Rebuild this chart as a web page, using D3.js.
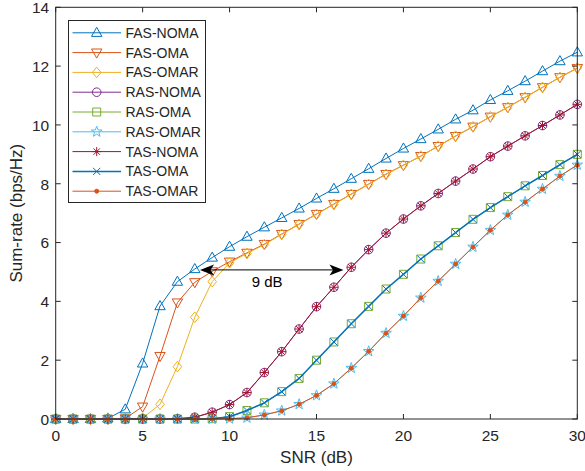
<!DOCTYPE html>
<html>
<head>
<meta charset="utf-8">
<script src="https://cdn.jsdelivr.net/npm/d3@7/dist/d3.min.js"></script>
<style>
    body { margin: 0; background: #fff; }
    text { font-family: "Liberation Sans", Arial, sans-serif; fill: #262626; }
</style>
</head>
<body>
<div id="chart"></div>
<script>
// SNR points (dB)
var snr = [0, 1, 2, 3, 4, 5, 6, 7, 8, 9, 10, 11, 12, 13, 14, 15, 16, 17, 18, 19, 20,
    21, 22, 23, 24, 25, 26, 27, 28, 29, 30];

// sum-rate values (bps/Hz)
var fasNoma = [0, 0, 0, 0.02, 0.33, 1.89, 3.84, 4.67, 5.1, 5.49, 5.86, 6.2, 6.52, 6.84, 7.16, 7.5,
    7.83, 8.17, 8.51, 8.86, 9.2, 9.52, 9.85, 10.19, 10.5, 10.85, 11.16, 11.49, 11.83, 12.17, 12.47];
var fasOma = [0, 0, 0, 0, 0.02, 0.42, 2.14, 3.96, 4.65, 5.02, 5.35, 5.65, 5.95, 6.29, 6.63, 6.97,
    7.31, 7.65, 7.99, 8.33, 8.63, 8.94, 9.28, 9.62, 9.94, 10.28, 10.6, 10.94, 11.28, 11.62, 11.93];
var fasOmar = [0, 0, 0, 0, 0, 0.03, 0.5, 1.78, 3.46, 4.67, 5.31, 5.63, 5.93, 6.28, 6.62, 6.96,
    7.3, 7.64, 7.98, 8.32, 8.63, 8.94, 9.28, 9.62, 9.94, 10.28, 10.6, 10.94, 11.28, 11.62, 11.94];
var rasNoma = [0, 0, 0, 0, 0, 0, 0, 0.01, 0.06, 0.23, 0.49, 0.9, 1.58, 2.29, 3.06, 3.82,
    4.48, 5.16, 5.76, 6.32, 6.8, 7.25, 7.67, 8.09, 8.5, 8.92, 9.28, 9.63, 9.98, 10.34, 10.7];
var rasOma = [0, 0, 0, 0, 0, 0, 0, 0, 0, 0.01, 0.08, 0.29, 0.55, 0.93, 1.38, 2.0,
    2.62, 3.24, 3.83, 4.42, 4.92, 5.44, 5.89, 6.34, 6.79, 7.19, 7.56, 7.93, 8.28, 8.65, 9.0];
var rasOmar = [0, 0, 0, 0, 0, 0, 0, 0, 0, 0, 0.01, 0.04, 0.14, 0.28, 0.5, 0.8,
    1.2, 1.73, 2.3, 2.92, 3.5, 4.12, 4.69, 5.27, 5.85, 6.42, 6.94, 7.38, 7.82, 8.26, 8.64];
var tasNoma = [0, 0, 0, 0, 0, 0, 0, 0.01, 0.06, 0.23, 0.49, 0.9, 1.58, 2.29, 3.06, 3.82,
    4.48, 5.16, 5.76, 6.32, 6.8, 7.25, 7.67, 8.09, 8.5, 8.92, 9.28, 9.63, 9.98, 10.34, 10.7];
var tasOma = [0, 0, 0, 0, 0, 0, 0, 0, 0, 0.01, 0.08, 0.29, 0.55, 0.93, 1.38, 2.0,
    2.62, 3.24, 3.83, 4.42, 4.92, 5.44, 5.89, 6.34, 6.79, 7.19, 7.56, 7.93, 8.28, 8.65, 9.0];
var tasOmar = [0, 0, 0, 0, 0, 0, 0, 0, 0, 0, 0.01, 0.04, 0.14, 0.28, 0.5, 0.8,
    1.2, 1.73, 2.3, 2.92, 3.5, 4.12, 4.69, 5.27, 5.85, 6.42, 6.94, 7.38, 7.82, 8.26, 8.64];

var seriesNames = ["FAS-NOMA", "FAS-OMA", "FAS-OMAR", "RAS-NOMA", "RAS-OMA", "RAS-OMAR",
    "TAS-NOMA", "TAS-OMA", "TAS-OMAR"];
var seriesValues = [fasNoma, fasOma, fasOmar, rasNoma, rasOma, rasOmar, tasNoma, tasOma, tasOmar];

var xTicks = [0, 5, 10, 15, 20, 25, 30];
var yTicks = [0, 2, 4, 6, 8, 10, 12, 14];

// the "9 dB" gap annotation (data coords)
var gapArrow = { from: 8.3, to: 16.55, level: 5.07, label: "9 dB" };

// styles (matlab default colour order)
var colors = ["#0072BD", "#D95319", "#EDB120", "#7E2F8E", "#77AC30", "#4DBEEE",
    "#A2142F", "#0072BD", "#D95319"];
var markers = ["tri-up", "tri-down", "diamond", "circle", "square", "star", "asterisk", "cross", "dot"];
var widths = [1, 1, 1, 1, 1, 1, 1, 1.5, 1];

var svgWidth = 585, svgHeight = 471;
var margin = { top: 7.3, right: 7.7, bottom: 52, left: 55.7 };
var width = svgWidth - margin.left - margin.right;
var height = svgHeight - margin.top - margin.bottom;

var svg = d3.select("#chart").append("svg")
    .attr("width", svgWidth)
    .attr("height", svgHeight);

var chartGroup = svg.append("g")
    .attr("transform", `translate(${margin.left}, ${margin.top})`);

var x = d3.scaleLinear().domain([0, 30]).range([0, width]);
var y = d3.scaleLinear().domain([0, 14]).range([height, 0]);

// marker shapes as paths centred on 0,0
function markerPath(type) {
    var p = d3.path();
    if (type == "tri-up") {
        p.moveTo(0, -5.5); p.lineTo(5.2, 3.6); p.lineTo(-5.2, 3.6); p.closePath();
    } else if (type == "tri-down") {
        p.moveTo(0, 5.5); p.lineTo(5.2, -3.6); p.lineTo(-5.2, -3.6); p.closePath();
    } else if (type == "diamond") {
        p.moveTo(0, -5.3); p.lineTo(4.3, 0); p.lineTo(0, 5.3); p.lineTo(-4.3, 0); p.closePath();
    } else if (type == "circle") {
        p.moveTo(4.3, 0); p.arc(0, 0, 4.3, 0, 2 * Math.PI);
    } else if (type == "square") {
        p.rect(-4, -4, 8, 8);
    } else if (type == "star") {
        for (var i = 0; i < 10; i++) {
            var r = i % 2 == 0 ? 5.6 : 2.3;
            var a = -Math.PI / 2 + i * Math.PI / 5;
            if (i == 0) p.moveTo(r * Math.cos(a), r * Math.sin(a));
            else p.lineTo(r * Math.cos(a), r * Math.sin(a));
        }
        p.closePath();
    } else if (type == "asterisk") {
        var s = 4.5, d = 3.2;
        p.moveTo(-s, 0); p.lineTo(s, 0);
        p.moveTo(0, -s); p.lineTo(0, s);
        p.moveTo(-d, -d); p.lineTo(d, d);
        p.moveTo(-d, d); p.lineTo(d, -d);
    } else if (type == "cross") {
        var c = 3.6;
        p.moveTo(-c, -c); p.lineTo(c, c);
        p.moveTo(-c, c); p.lineTo(c, -c);
    } else if (type == "dot") {
        p.moveTo(2, 0); p.arc(0, 0, 2, 0, 2 * Math.PI);
    }
    return p.toString();
}

var line = d3.line()
    .x((d, i) => x(snr[i]))
    .y(d => y(d));

// draw the series
seriesValues.forEach(function(vals, k) {
    var g = chartGroup.append("g");
    g.append("path")
        .attr("d", line(vals))
        .attr("fill", "none")
        .attr("stroke", colors[k])
        .attr("stroke-width", widths[k]);
    g.selectAll("path.mk")
        .data(vals)
        .enter()
        .append("path")
        .attr("class", "mk")
        .attr("transform", (d, i) => `translate(${x(snr[i])}, ${y(d)})`)
        .attr("d", markerPath(markers[k]))
        .attr("fill", markers[k] == "dot" ? colors[k] : "none")
        .attr("stroke", colors[k])
        .attr("stroke-width", 1);
});

// axes box
var axisColor = "#262626";
chartGroup.append("rect")
    .attr("width", width)
    .attr("height", height)
    .attr("fill", "none")
    .attr("stroke", axisColor)
    .attr("stroke-width", 1);

// ticks, inside on all four sides
var tickLen = 5;
xTicks.forEach(function(t) {
    chartGroup.append("line").attr("x1", x(t)).attr("x2", x(t))
        .attr("y1", height).attr("y2", height - tickLen).attr("stroke", axisColor);
    chartGroup.append("line").attr("x1", x(t)).attr("x2", x(t))
        .attr("y1", 0).attr("y2", tickLen).attr("stroke", axisColor);
    chartGroup.append("text")
        .attr("x", x(t))
        .attr("y", height + 22.5)
        .attr("text-anchor", "middle")
        .style("font-size", "15.5px")
        .text(t);
});
yTicks.forEach(function(t) {
    chartGroup.append("line").attr("x1", 0).attr("x2", tickLen)
        .attr("y1", y(t)).attr("y2", y(t)).attr("stroke", axisColor);
    chartGroup.append("line").attr("x1", width).attr("x2", width - tickLen)
        .attr("y1", y(t)).attr("y2", y(t)).attr("stroke", axisColor);
    chartGroup.append("text")
        .attr("x", -6.5)
        .attr("y", y(t) + 5.8)
        .attr("text-anchor", "end")
        .style("font-size", "15.5px")
        .text(t);
});

// axis labels
chartGroup.append("text")
    .attr("x", width / 2)
    .attr("y", height + 44)
    .attr("text-anchor", "middle")
    .style("font-size", "17px")
    .text("SNR (dB)");

chartGroup.append("text")
    .attr("transform", `translate(${21.7 - margin.left}, ${height / 2}) rotate(-90)`)
    .attr("text-anchor", "middle")
    .style("font-size", "17px")
    .text("Sum-rate (bps/Hz)");

// double arrow for the gap
var ay = y(gapArrow.level);
chartGroup.append("line")
    .attr("x1", x(gapArrow.from) + 8).attr("x2", x(gapArrow.to) - 8)
    .attr("y1", ay).attr("y2", ay)
    .attr("stroke", "#000").attr("stroke-width", 1);
var head = "M0,0 L14,-5.5 L10.5,0 L14,5.5 Z";
chartGroup.append("path")
    .attr("d", head)
    .attr("transform", `translate(${x(gapArrow.from)}, ${ay})`)
    .attr("fill", "#000");
chartGroup.append("path")
    .attr("d", head)
    .attr("transform", `translate(${x(gapArrow.to)}, ${ay}) rotate(180)`)
    .attr("fill", "#000");
chartGroup.append("text")
    .attr("x", 196 - margin.left + 55.7)
    .attr("y", ay + 17.5)
    .style("font-size", "15px")
    .style("fill", "#000")
    .text(gapArrow.label);

// legend
var legend = svg.append("g")
    .attr("transform", "translate(68.5, 20.5)");
legend.append("rect")
    .attr("width", 137)
    .attr("height", 182)
    .attr("fill", "#fff")
    .attr("stroke", axisColor)
    .attr("stroke-width", 1);

seriesNames.forEach(function(name, k) {
    var ly = 12.3 + k * 19.8;
    legend.append("line")
        .attr("x1", 4).attr("x2", 52.5)
        .attr("y1", ly).attr("y2", ly)
        .attr("stroke", colors[k])
        .attr("stroke-width", widths[k]);
    legend.append("path")
        .attr("transform", `translate(28.2, ${ly})`)
        .attr("d", markerPath(markers[k]))
        .attr("fill", markers[k] == "dot" ? colors[k] : "none")
        .attr("stroke", colors[k]);
    legend.append("text")
        .attr("x", 57)
        .attr("y", ly + 5)
        .style("font-size", "14px")
        .text(name);
});
</script>
</body>
</html>
